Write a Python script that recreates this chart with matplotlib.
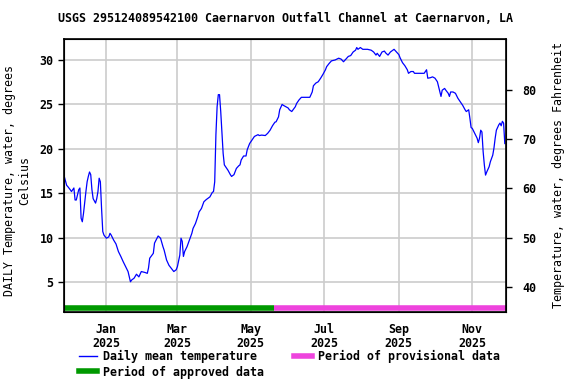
"""
Daily mean water temperature, Caernarvon Outfall Channel
"""

import numpy as np
import matplotlib.pyplot as plt
import matplotlib.dates as mdates
from matplotlib.lines import Line2D

start = np.datetime64("2024-11-27")

# days since start, traced daily mean temperature (deg C)
day = [0, 2, 3, 5, 6, 8, 9, 10, 12, 13, 14, 15, 16, 18, 19, 20, 21, 22, 23, 24,
       26, 27, 28, 29, 30, 31, 32, 33, 35, 37, 38, 39, 41, 43, 45, 47, 49, 51, 53, 55,
       56, 58, 60, 62, 64, 67, 69, 70, 71, 74, 75, 77, 78, 80, 82, 83, 85, 87, 89, 91,
       93, 94, 96, 97, 98, 99, 100, 102, 104, 106, 107, 109, 111, 112, 114, 116, 118, 121, 123, 124,
       125, 126, 127, 128, 129, 130, 131, 132, 133, 134, 136, 138, 139, 141, 143, 145, 146, 147, 149, 151,
       152, 154, 156, 158, 161, 162, 164, 167, 169, 171, 173, 175, 176, 178, 179, 181, 182, 184, 186, 187,
       189, 192, 193, 195, 197, 200, 204, 206, 207, 209, 211, 213, 215, 217, 218, 220, 222, 225, 228, 230,
       232, 234, 236, 238, 240, 242, 243, 244, 246, 248, 252, 255, 257, 259, 260, 262, 264, 266, 267, 269,
       271, 273, 274, 276, 278, 279, 281, 283, 285, 286, 288, 290, 291, 296, 299, 301, 302, 304, 306, 308,
       310, 311, 313, 314, 316, 317, 319, 320, 321, 323, 325, 327, 329, 331, 333, 334, 336, 337, 338, 339,
       341, 343, 344, 345, 346, 347, 348, 349, 350, 351, 353, 354, 356, 357, 358, 359, 361, 362, 363, 364,
       365, 366]
temp_c = [16.9, 15.9, 15.75, 15.4, 15.2, 15.6, 14.25, 14.25, 15.4, 15.6, 12.2, 11.8, 12.75, 15.2, 16.3, 16.9, 17.4, 17.1, 15.4, 14.4,
          13.9, 14.4, 15.2, 16.7, 16.3, 13.3, 10.7, 10.3, 9.95, 10.1, 10.5, 10.3, 9.75, 9.3, 8.45, 7.9, 7.3, 6.75, 6.2, 5.05,
          5.25, 5.45, 5.9, 5.6, 6.2, 6.1, 6.0, 6.6, 7.7, 8.25, 9.4, 9.95, 10.2, 9.95, 9.0, 8.6, 7.5, 6.9, 6.55, 6.2,
          6.4, 6.75, 8.05, 9.95, 9.6, 7.9, 8.45, 9.0, 9.75, 10.5, 11.05, 11.6, 12.4, 12.9, 13.3, 14.05, 14.3, 14.6, 15.1, 15.2,
          16.3, 21.6, 24.75, 26.1, 26.1, 24.2, 21.75, 19.5, 18.2, 18.0, 17.6, 17.1, 16.9, 17.1, 17.8, 18.1, 18.2, 18.75, 19.2, 19.2,
          19.9, 20.6, 21.0, 21.4, 21.6, 21.5, 21.55, 21.5, 21.75, 22.1, 22.6, 23.0, 23.05, 23.6, 24.4, 25.0, 24.9, 24.75, 24.6, 24.4,
          24.2, 24.75, 25.1, 25.5, 25.8, 25.8, 25.8, 26.4, 27.1, 27.4, 27.55, 27.95, 28.4, 28.9, 29.25, 29.6, 29.9, 30.0, 30.2, 30.1,
          29.8, 30.1, 30.4, 30.5, 30.9, 31.1, 31.4, 31.2, 31.4, 31.2, 31.2, 31.1, 30.9, 30.55, 30.75, 30.4, 30.9, 31.0, 30.8, 30.55,
          30.9, 31.1, 31.2, 30.9, 30.6, 30.25, 29.7, 29.35, 28.9, 28.5, 28.7, 28.7, 28.5, 28.5, 28.5, 28.9, 27.95, 28.0, 28.1, 27.95,
          27.55, 27.0, 25.9, 26.6, 26.8, 26.6, 26.25, 25.9, 26.4, 26.4, 26.25, 25.7, 25.3, 24.9, 24.4, 24.2, 24.4, 23.45, 22.4, 22.3,
          21.75, 21.2, 20.7, 21.2, 22.1, 21.9, 19.7, 18.2, 17.05, 17.4, 18.0, 18.55, 19.3, 20.1, 21.2, 22.1, 22.7, 22.9, 22.6, 23.1,
          22.9, 20.6]

provisional_start = np.datetime64("2025-05-20")
end = np.datetime64("2025-11-28")

dates = start + np.array(day).astype("timedelta64[D]")

plt.rcParams["font.family"] = "DejaVu Sans Mono"
plt.rcParams["font.weight"] = "bold"
plt.rcParams["font.size"] = 8.4

fig = plt.figure(figsize=(5.76, 3.84), dpi=100)
ax = fig.add_axes([64 / 576, 1 - 312 / 384, 442 / 576, 273 / 384])

blue = "#0000ff"
green = "#009900"
pink = "#ee44dd"

ax.plot(dates, temp_c, color=blue, linewidth=0.9)

# data-approval bars along the bottom
bar_y = 2.1
x0 = start - np.timedelta64(1, "D")
x1 = end + np.timedelta64(1, "D")
ax.plot([x0, provisional_start], [bar_y, bar_y], color=green, linewidth=4, solid_capstyle="butt")
ax.plot([provisional_start, x1], [bar_y, bar_y], color=pink, linewidth=4, solid_capstyle="butt")

ylo, yhi = 1.65, 32.36
ax.set_ylim(ylo, yhi)
ax.set_xlim(start - np.timedelta64(5, "h"), start + np.timedelta64(367 * 24, "h"))
ax.set_yticks([5, 10, 15, 20, 25, 30])

ticks = [np.datetime64(f"2025-{m:02d}-01") for m in (1, 3, 5, 7, 9, 11)]
ax.set_xticks(ticks)
ax.xaxis.set_major_formatter(mdates.DateFormatter("%b\n%Y"))
for lbl in ax.get_xticklabels():
    lbl.set_linespacing(1.1)

ax.grid(color="#cccccc", linewidth=1.2)
ax.set_axisbelow(True)
ax.tick_params(axis="x", length=0, pad=8)
ax.tick_params(axis="y", length=4, width=1)
for s in ax.spines.values():
    s.set_linewidth(1.2)

ax.set_ylabel("DAILY Temperature, water, degrees\nCelsius", labelpad=6)
ax.yaxis.set_label_coords(-0.075, 0.48)

axr = ax.twinx()
axr.set_ylim(ylo * 1.8 + 32, yhi * 1.8 + 32)
axr.set_yticks([40, 50, 60, 70, 80])
axr.tick_params(axis="y", length=4, width=1, pad=8)
axr.set_ylabel("Temperature, water, degrees Fahrenheit", labelpad=11)

ax.set_title("USGS 295124089542100 Caernarvon Outfall Channel at Caernarvon, LA",
             fontsize=8.4, fontweight="bold", pad=12)

handles = [
    Line2D([], [], color=blue, linewidth=1),
    Line2D([], [], color=green, linewidth=4),
    Line2D([], [], color=pink, linewidth=4),
]
labels = ["Daily mean temperature", "Period of approved data", "Period of provisional data"]
fig.legend(handles, labels, ncol=2, loc="upper left", bbox_to_anchor=(79 / 576, 1 - 350 / 384),
           frameon=False, handlelength=1.55, handletextpad=0.5, columnspacing=2.55,
           labelspacing=0.2, borderaxespad=0, borderpad=0)

fig.savefig("out.png", dpi=100)
